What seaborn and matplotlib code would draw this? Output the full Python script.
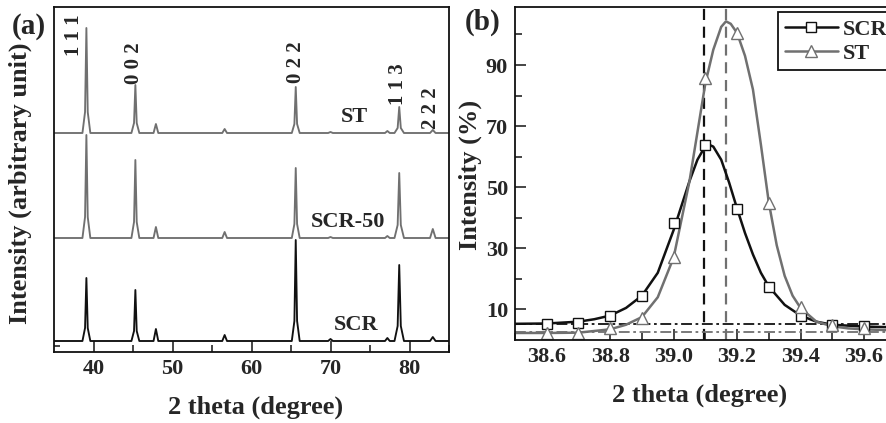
import numpy as np
import pandas as pd
import matplotlib
matplotlib.use("Agg")
import matplotlib.pyplot as plt
import seaborn as sns
from matplotlib.lines import Line2D
from matplotlib.ticker import MultipleLocator, FixedLocator, FormatStrFormatter

sns.set_style("ticks")
plt.rcParams['font.family'] = ['Liberation Serif', 'DejaVu Serif']
plt.rcParams['font.weight'] = 'bold'
plt.rcParams['axes.labelweight'] = 'bold'

# ---------------- data: panel (a) XRD patterns (vertex points) ----------
two_theta = [35.0,
             38.6, 38.93, 39.1, 39.27, 39.6,
             44.8, 45.13, 45.3, 45.47, 45.8,
             47.6, 47.9, 48.2,
             56.3, 56.6, 56.9,
             65.1, 65.43, 65.6, 65.77, 66.1,
             69.7, 70.0, 70.3,
             76.9, 77.2, 77.5,
             78.1, 78.5, 78.7, 78.9, 79.3,
             82.6, 82.95, 83.3,
             85.0]
int_scr = [11,
           11, 24, 74, 24, 11,
           11, 21, 62, 21, 11,
           11, 23, 11,
           11, 17, 11,
           11, 31, 112, 31, 11,
           11, 13, 11,
           11, 14, 11,
           11, 26, 87, 26, 11,
           11, 15, 11,
           11]
int_scr50 = [114,
             114, 135, 217, 135, 114,
             114, 130, 192, 130, 114,
             114, 125, 114,
             114, 120, 114,
             114, 128, 184, 128, 114,
             114, 115, 114,
             114, 116, 114,
             114, 127, 179, 127, 114,
             114, 123, 114,
             114]
int_st = [219,
          219, 240, 324, 240, 219,
          219, 229, 267, 229, 219,
          219, 228, 219,
          219, 223, 219,
          219, 228, 265, 228, 219,
          219, 220, 219,
          219, 221, 219,
          219, 224, 245, 224, 219,
          219, 222, 219,
          219]
hkl_labels = ["1 1 1", "0 0 2", "0 2 2", "1 1 3", "2 2 2"]
hkl_pos = [(37.5, 317), (45.1, 289), (65.6, 290), (78.5, 268), (82.7, 244)]
sample_labels = ["ST", "SCR-50", "SCR"]
sample_pos = [(73.0, 235), (72.2, 130), (73.2, 27)]

# ---------------- data: panel (b) 111 peak ----------------
marker_x = [38.6, 38.7, 38.8, 38.9, 39.0, 39.1, 39.2, 39.3, 39.4, 39.5, 39.6]
marker_scr = [5.4, 5.6, 7.8, 14.4, 38.4, 63.9, 42.8, 17.2, 7.9, 4.9, 4.7]
marker_st = [2.3, 2.2, 3.9, 7.1, 27.2, 85.7, 100.5, 44.8, 10.9, 4.9, 3.9]

fit_x_scr = [38.5, 38.6, 38.7, 38.75, 38.8, 38.85, 38.9, 38.95, 39.0, 39.025, 39.05,
             39.075, 39.1, 39.11, 39.125, 39.15, 39.175, 39.2, 39.225, 39.25, 39.275,
             39.3, 39.35, 39.4, 39.45, 39.5, 39.6, 39.68]
fit_y_scr = [5.3, 5.4, 6.0, 6.8, 8.0, 10.5, 14.5, 22, 36, 44, 52,
             59, 63.5, 64, 63.3, 59, 51.5, 43, 35, 28, 22,
             17.5, 11.5, 8, 6, 5, 4.4, 4.2]
fit_x_st = [38.5, 38.6, 38.7, 38.8, 38.85, 38.9, 38.95, 39.0, 39.05, 39.1, 39.125,
            39.15, 39.165, 39.18, 39.2, 39.225, 39.25, 39.275, 39.3, 39.325, 39.35,
            39.375, 39.4, 39.45, 39.5, 39.55, 39.6, 39.68]
fit_y_st = [2.3, 2.3, 2.4, 3.5, 5, 7.5, 14, 27, 52, 84, 95,
            102.5, 104.3, 103.5, 100.5, 93, 82, 64, 45, 31, 21,
            14.5, 10.5, 6, 4.5, 3.8, 3.5, 3.2]
peak_center = {"SCR": 39.095, "ST": 39.165}
baseline_level = {"SCR": 5.2, "ST": 2.6}

BLACK = "#111111"
GRAY = "#707070"

fig = plt.figure(figsize=(8.86, 4.23), dpi=100)
W, H = 886, 423
ax1 = fig.add_axes([54 / W, 1 - 352 / H, 395 / W, 345 / H])
ax2 = fig.add_axes([515 / W, 1 - 340 / H, (890 - 515) / W, 333 / H])

# ---------------- panel (a) ----------------
for vals, col in [(int_st, GRAY), (int_scr50, GRAY), (int_scr, BLACK)]:
    sns.lineplot(x=two_theta, y=vals, ax=ax1, color=col, lw=1.35, sort=False)
ax1.set_xlim(35, 85)
ax1.set_ylim(0, 345)
ax1.xaxis.set_major_locator(MultipleLocator(10))
ax1.xaxis.set_minor_locator(FixedLocator([45, 55, 65, 75, 85]))
ax1.set_yticks([6])
ax1.set_yticklabels([])
ax1.tick_params(axis='both', which='major', direction='in', length=8, width=1.2,
                labelsize=16, pad=5)
ax1.tick_params(axis='y', which='major', length=4)
ax1.tick_params(axis='x', which='minor', direction='in', length=5, width=1.2)
for lab, (x, y) in zip(hkl_labels, hkl_pos):
    ax1.text(x, y, lab, rotation=90, ha='center', va='center', fontsize=15,
             fontweight='bold')
for lab, (x, y) in zip(sample_labels, sample_pos):
    ax1.text(x, y, lab, ha='center', va='center', fontsize=16, fontweight='bold')
ax1.set_xlabel("2 theta (degree)", fontsize=19)
ax1.set_ylabel("Intensity (arbitrary unit)", fontsize=19)
ax1.xaxis.set_label_coords((256 - 54) / 395, (352 - 407) / 345)
ax1.xaxis.label.set_verticalalignment('center')
ax1.yaxis.set_label_coords((20 - 54) / 395, 0.49)
ax1.yaxis.label.set_verticalalignment('center')

# ---------------- panel (b) ----------------
sns.lineplot(x=fit_x_scr, y=fit_y_scr, ax=ax2, color=BLACK, lw=1.8, sort=False)
sns.lineplot(x=fit_x_st, y=fit_y_st, ax=ax2, color=GRAY, lw=1.8, sort=False)
ax2.plot(marker_x, marker_scr, ls='none', marker='s', ms=7, mfc='white',
         mec=BLACK, mew=1.0)
ax2.plot(marker_x, marker_st, ls='none', marker='^', ms=8.5, mfc='white',
         mec=GRAY, mew=1.0)
ax2.axvline(peak_center["SCR"], color=BLACK, ls=(0, (5, 3)), lw=1.6, zorder=1)
ax2.axvline(peak_center["ST"], color=GRAY, ls=(0, (5, 3)), lw=1.6, zorder=1)
ax2.axhline(baseline_level["SCR"], color=BLACK, ls=(0, (6, 2, 1.5, 2)), lw=1.3, zorder=1)
ax2.axhline(baseline_level["ST"], color=GRAY, ls=(0, (6, 2, 1.5, 2)), lw=1.3, zorder=1)
ax2.set_xlim(38.5, 39.682)
ax2.set_ylim(0, 109)
ax2.xaxis.set_major_locator(FixedLocator([38.6, 38.8, 39.0, 39.2, 39.4, 39.6]))
ax2.xaxis.set_minor_locator(FixedLocator([38.5, 38.7, 38.9, 39.1, 39.3, 39.5]))
ax2.xaxis.set_major_formatter(FormatStrFormatter('%.1f'))
ax2.yaxis.set_major_locator(FixedLocator([10, 30, 50, 70, 90]))
ax2.yaxis.set_minor_locator(FixedLocator([20, 40, 60, 80, 100]))
ax2.tick_params(axis='both', which='major', direction='in', length=8, width=1.2,
                labelsize=16, pad=5)
ax2.tick_params(axis='both', which='minor', direction='in', length=5, width=1.2)
ax2.set_xlabel("2 theta (degree)", fontsize=19)
ax2.set_ylabel("Intensity (%)", fontsize=19)
ax2.xaxis.set_label_coords((700 - 515) / 375, (340 - 395) / 333)
ax2.xaxis.label.set_verticalalignment('center')
ax2.yaxis.set_label_coords((470 - 515) / 375, 0.495)
ax2.yaxis.label.set_verticalalignment('center')

for ax in (ax1, ax2):
    for sp in ax.spines.values():
        sp.set_linewidth(1.3)
        sp.set_color(BLACK)
        sp.set_visible(True)

handles = [Line2D([], [], color=BLACK, lw=1.8, marker='s', ms=7, mfc='white', mec=BLACK),
           Line2D([], [], color=GRAY, lw=1.8, marker='^', ms=8.5, mfc='white', mec=GRAY)]
leg = fig.legend(handles, ["SCR", "ST"], loc='upper left',
                 bbox_to_anchor=(778 / W, 1 - 12.5 / H), bbox_transform=fig.transFigure,
                 fontsize=16, frameon=True, fancybox=False, framealpha=1,
                 edgecolor=BLACK, borderaxespad=0, borderpad=0.3,
                 handlelength=2.4, handletextpad=0.2, labelspacing=0.15)
leg.get_frame().set_linewidth(1.3)
for t in leg.get_texts():
    t.set_fontweight('bold')

fig.text(29 / W, 1 - 26 / H, "(a)", fontsize=21, fontweight='bold', ha='center', va='center')
fig.text(483 / W, 1 - 22 / H, "(b)", fontsize=21, fontweight='bold', ha='center', va='center')

fig.savefig("out.png", dpi=100)
